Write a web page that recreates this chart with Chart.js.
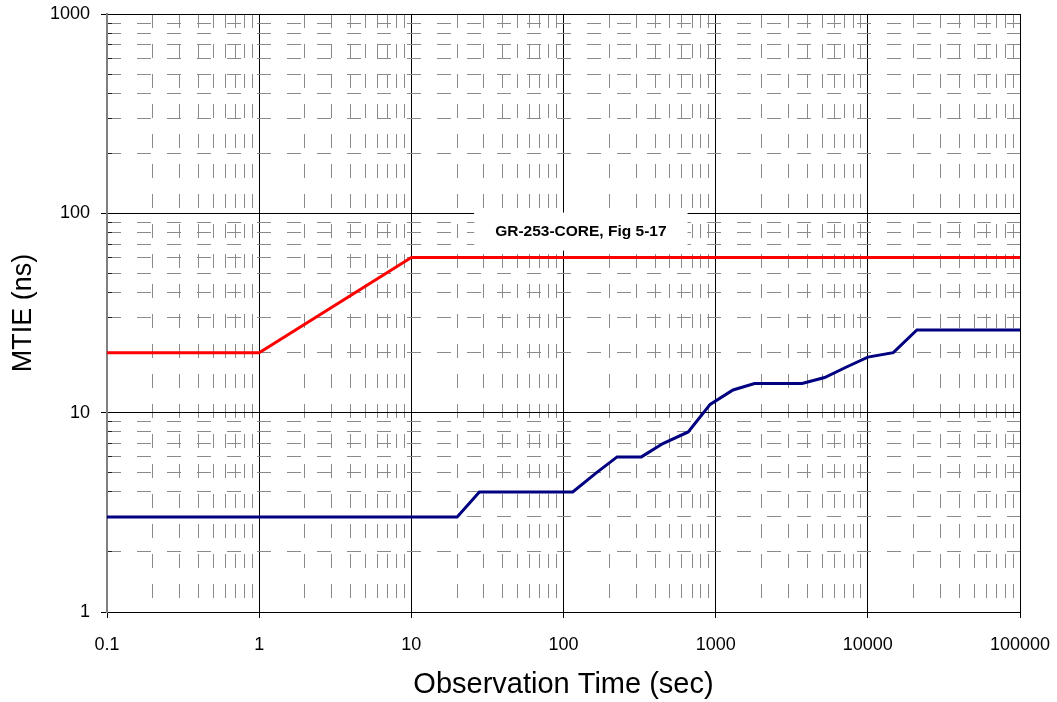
<!DOCTYPE html>
<html><head><meta charset="utf-8">
<script src="https://cdn.jsdelivr.net/npm/chart.js@4.4.1/dist/chart.umd.min.js"></script>
<style>html,body{margin:0;padding:0;background:#fff;}#wrap{width:1057px;height:702px;}</style>
</head><body><div id="wrap"><canvas id="c" width="1057" height="702"></canvas></div>
<script>
// ---- data ----
const limitTau = [0.1, 1, 10, 100000];
const limitMtie = [20, 20, 60, 60];
const measTau = [0.1, 20, 28, 115, 165, 225, 325, 450, 660, 920, 1300, 1800, 3700, 5200, 7300, 10000, 14700, 21000, 100000];
const measMtie = [3, 3, 4, 4, 5, 6, 6, 7, 8, 11, 13, 14, 14, 15, 17, 19, 20, 26, 26];
const xMajorTicks = [0.1, 1, 10, 100, 1000, 10000, 100000];
const xTickLabels = ['0.1', '1', '10', '100', '1000', '10000', '100000'];
const yMajorTicks = [1, 10, 100, 1000];
const yTickLabels = ['1', '10', '100', '1000'];
const noteText = 'GR-253-CORE, Fig 5-17';
const noteAt = {x: 130, y: 81};

// ---- helpers ----
function minorTicks(lo, hi) {
  const t = [];
  for (let d = lo; d < hi * 0.999; d = +(d * 10).toPrecision(6)) {
    for (let m = 2; m <= 9; m++) t.push({value: +(d * m).toPrecision(6)});
  }
  return t;
}
const FONT = '"Liberation Sans", Arial, Helvetica, sans-serif';
Chart.defaults.font.family = FONT;
Chart.defaults.color = '#000';

const notePlugin = {
  id: 'note',
  beforeDatasetsDraw(chart) {
    const {ctx, scales: {x, y}} = chart;
    const cx = x.getPixelForValue(noteAt.x), cy = y.getPixelForValue(noteAt.y);
    ctx.save();
    ctx.font = 'bold 15.5px ' + FONT;
    const w = ctx.measureText(noteText).width + 42, h = 38;
    ctx.fillStyle = '#fff';
    ctx.fillRect(cx - w / 2, cy - h / 2, w, h);
    ctx.fillStyle = '#000';
    ctx.textAlign = 'center';
    ctx.textBaseline = 'middle';
    ctx.fillText(noteText, cx, cy);
    ctx.restore();
  }
};

function noPad(s) { s.paddingLeft = 0; s.paddingRight = 0; s.paddingTop = 0; s.paddingBottom = 0; }

new Chart(document.getElementById('c'), {
  type: 'line',
  data: {
    datasets: [
      {data: limitTau.map((t, i) => ({x: t, y: limitMtie[i]})), borderColor: '#ff0000', borderWidth: 3,
       pointRadius: 0, tension: 0, xAxisID: 'x', yAxisID: 'y'},
      {data: measTau.map((t, i) => ({x: t, y: measMtie[i]})), borderColor: '#000080', borderWidth: 3,
       pointRadius: 0, tension: 0, xAxisID: 'x', yAxisID: 'y'}
    ]
  },
  options: {
    responsive: false, animation: false, devicePixelRatio: 1,
    layout: {padding: {left: 0, right: 37, top: 14, bottom: 0}},
    plugins: {legend: {display: false}, tooltip: {enabled: false}},
    scales: {
      xMinor: {
        type: 'logarithmic', position: 'bottom', min: 0.1, max: 100000, weight: 0, z: -1,
        afterBuildTicks: s => { s.ticks = minorTicks(0.1, 100000); },
        ticks: {display: false},
        grid: {color: '#8a8a8a', lineWidth: 1, drawTicks: false},
        border: {display: false, dash: [14, 16]},
        afterFit: s => { s.height = 0; noPad(s); }
      },
      x: {
        type: 'logarithmic', position: 'bottom', min: 0.1, max: 100000, weight: 1,
        afterBuildTicks: s => { s.ticks = xMajorTicks.map(v => ({value: v})); },
        ticks: {autoSkip: false, maxRotation: 0, padding: 16, font: {size: 18},
                callback: v => xTickLabels[xMajorTicks.indexOf(v)]},
        grid: {color: c => (c.tick && c.tick.value === 0.1) ? 'rgba(0,0,0,0)' : '#000', lineWidth: 1,
               tickLength: 6, tickColor: '#000'},
        border: {display: true, color: '#000', width: 1},
        title: {display: true, text: 'Observation Time (sec)', font: {size: 29}, color: '#000',
                padding: {top: 0, bottom: 0}},
        afterFit: s => { s.height = 90; noPad(s); }
      },
      yMinor: {
        type: 'logarithmic', position: 'left', min: 1, max: 1000, weight: 0, z: -1,
        afterBuildTicks: s => { s.ticks = minorTicks(1, 1000); },
        ticks: {display: false},
        grid: {color: '#8a8a8a', lineWidth: 1, drawTicks: true, tickLength: -5, tickColor: '#222', tickBorderDash: []},
        border: {display: false, dash: [14, 16]},
        afterFit: s => { s.width = 0; noPad(s); }
      },
      y: {
        type: 'logarithmic', position: 'left', min: 1, max: 1000, weight: 1,
        afterBuildTicks: s => { s.ticks = yMajorTicks.map(v => ({value: v})); },
        ticks: {autoSkip: false, padding: 11, font: {size: 18},
                callback: v => yTickLabels[yMajorTicks.indexOf(v)]},
        grid: {color: '#000', lineWidth: 1, tickLength: 6, tickColor: '#000'},
        border: {display: true, color: '#808080', width: 2},
        title: {display: true, text: 'MTIE (ns)', font: {size: 27}, color: '#000',
                padding: {top: 7, bottom: 0}},
        afterFit: s => { s.width = 107; noPad(s); }
      }
    }
  },
  plugins: [notePlugin]
});
</script></body></html>
